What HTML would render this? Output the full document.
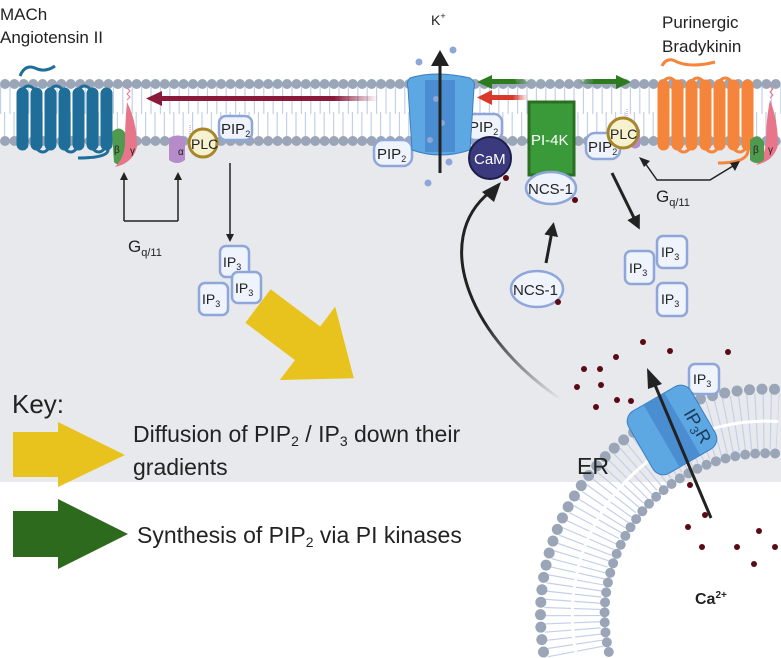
<!DOCTYPE html>
<html><head><meta charset="utf-8"><style>
html,body{margin:0;padding:0;background:#fff;width:781px;height:658px;overflow:hidden}
svg{display:block}
text{font-family:"Liberation Sans",sans-serif;fill:#222}
</style></head><body>
<svg width="781" height="658" viewBox="0 0 781 658" xmlns="http://www.w3.org/2000/svg">
<defs>
<linearGradient id="fadeR" x1="0" x2="1" y1="0" y2="0"><stop offset="0" stop-color="#8b1a3a"/><stop offset="0.8" stop-color="#8b1a3a"/><stop offset="1" stop-color="#8b1a3a" stop-opacity="0"/></linearGradient>
<linearGradient id="fadeRed" x1="0" x2="1"><stop offset="0" stop-color="#d9382a"/><stop offset="0.6" stop-color="#d9382a"/><stop offset="1" stop-color="#d9382a" stop-opacity="0"/></linearGradient>
<linearGradient id="fadeGL" x1="0" x2="1"><stop offset="0" stop-color="#2e7a1e"/><stop offset="0.6" stop-color="#2e7a1e"/><stop offset="1" stop-color="#2e7a1e" stop-opacity="0"/></linearGradient>
<linearGradient id="fadeGR" x1="1" x2="0"><stop offset="0" stop-color="#2e7a1e"/><stop offset="0.6" stop-color="#2e7a1e"/><stop offset="1" stop-color="#2e7a1e" stop-opacity="0"/></linearGradient>
<linearGradient id="curveG" gradientUnits="userSpaceOnUse" x1="560" y1="400" x2="470" y2="250"><stop offset="0" stop-color="#222" stop-opacity="0"/><stop offset="0.6" stop-color="#222"/></linearGradient>
<marker id="ah" markerWidth="8" markerHeight="8" refX="6" refY="4" orient="auto" markerUnits="userSpaceOnUse"><path d="M0,0 L8,4 L0,8 z" fill="#222"/></marker>
<marker id="ahb" markerWidth="14" markerHeight="14" refX="10" refY="7" orient="auto" markerUnits="userSpaceOnUse"><path d="M0,0 L14,7 L0,14 z" fill="#222"/></marker>
</defs>

<rect x="0" y="141" width="781" height="341" fill="#e8e9ed"/>

<line x1="0" y1="100" x2="781" y2="100" stroke="#c3d0ea" stroke-width="28" stroke-dasharray="1.2 8.2"/>
<line x1="4" y1="126" x2="777" y2="126" stroke="#c3d0ea" stroke-width="28" stroke-dasharray="1.2 8.2"/>
<line x1="5" y1="84" x2="776" y2="84" stroke="#9aa6b8" stroke-width="10" stroke-linecap="round" stroke-dasharray="0 9.4"/>
<line x1="5" y1="141" x2="776" y2="141" stroke="#9aa6b8" stroke-width="10" stroke-linecap="round" stroke-dasharray="0 9.4"/>

<path d="M575.8,652 A194,194 0 0 1 778,421.5" fill="none" stroke="#c3d0ea" stroke-width="56" stroke-dasharray="1.2 6"/>
<path d="M575.8,652 A194,194 0 0 1 778,421.5" fill="none" stroke="#fff" stroke-width="3"/>
<path d="M543.5,652 A226,226 0 0 1 776,389.3" fill="none" stroke="#9aa6b8" stroke-width="11" stroke-linecap="round" stroke-dasharray="0 12.5"/>
<path d="M608.8,652 A162,162 0 0 1 776,453.5" fill="none" stroke="#9aa6b8" stroke-width="10" stroke-linecap="round" stroke-dasharray="0 10"/>

<text x="0" y="20" font-size="17">MACh</text>
<text x="0" y="43" font-size="17">Angiotensin II</text>
<text x="431" y="25" font-size="14">K<tspan font-size="9" dy="-6">+</tspan></text>
<text x="662" y="28" font-size="17">Purinergic</text>
<text x="662" y="52" font-size="17">Bradykinin</text>

<g fill="#1f6e9a" stroke="#1f6e9a">
<path d="M20,76 q5,-12 15,-8 q10,5 20,-2" fill="none" stroke-width="3"/>
<rect x="17" y="88" width="11" height="62" rx="5.5"/><rect x="31" y="88" width="11" height="62" rx="5.5"/>
<rect x="45" y="88" width="11" height="62" rx="5.5"/><rect x="59" y="88" width="11" height="62" rx="5.5"/>
<rect x="73" y="88" width="11" height="62" rx="5.5"/><rect x="87" y="88" width="11" height="62" rx="5.5"/>
<rect x="101" y="88" width="11" height="62" rx="5.5"/>
<path d="M22,90 q6,-8 13,0 M50,90 q6,-8 13,0 M78,90 q6,-8 13,0 M36,148 q7,8 13,0 M64,148 q7,8 13,0 M92,148 q7,8 13,0 M108,150 q0,8 -30,8" fill="none" stroke-width="3"/>
</g>
<rect x="158" y="96" width="220" height="5" fill="url(#fadeR)"/>
<path d="M146,98.5 L162,91 L162,106 z" fill="#8b1a3a"/>
<path d="M112,132 q8,-8 14,2 l0,28 q-6,6 -12,0 z" fill="#4f9a4f"/>
<text x="114" y="153" font-size="10" fill="#eee">β</text>
<path d="M127,102 q10,20 10,45 q-4,16 -22,20 q10,-10 10,-25 q0,-20 2,-40z" fill="#e8768a"/>
<text x="130" y="154" font-size="10">γ</text>
<path d="M127,100 l3,-3 l-3,-3 l3,-3 l-3,-3" stroke="#e8768a" fill="none"/>
<path d="M169,138 q10,-5 16,0 l0,22 q-8,6 -16,0z" fill="#b58bc9"/>
<text x="178" y="155" font-size="10">α</text>
<path d="M190,134 l0,-10" stroke="#b58bc9" stroke-dasharray="1 1"/>
<circle cx="203" cy="143" r="14" fill="#f6f1cf" stroke="#a8862a" stroke-width="3"/>
<text x="191" y="149" font-size="14">PLC</text>
<g fill="#eef3fc" stroke="#8fa6d8" stroke-width="2.5">
<rect x="219" y="116" width="33" height="24" rx="7"/>
<rect x="374" y="140" width="38" height="26" rx="9"/>
<rect x="467" y="114" width="35" height="26" rx="8"/>
<rect x="586" y="133" width="34" height="26" rx="9"/>
</g>
<text x="221" y="134" font-size="15">PIP<tspan font-size="9" dy="3">2</tspan></text>
<text x="377" y="159" font-size="15">PIP<tspan font-size="9" dy="3">2</tspan></text>
<text x="469" y="132" font-size="15">PIP<tspan font-size="9" dy="3">2</tspan></text>
<text x="588" y="152" font-size="15">PIP<tspan font-size="9" dy="3">2</tspan></text>

<path d="M124,221 L124,178 M178,221 L178,178 M124,221 L178,221" stroke="#222" stroke-width="1.5" fill="none"/>
<path d="M120,180 L124,172 L128,180z M174,180 L178,172 L182,180z" fill="#222"/>
<text x="128" y="252" font-size="17">G<tspan font-size="11" dy="4">q/11</tspan></text>
<line x1="230" y1="163" x2="230" y2="240" stroke="#222" stroke-width="1.5" marker-end="url(#ah)"/>
<g fill="#eef3fc" stroke="#8fa6d8" stroke-width="2.5">
<rect x="220" y="246" width="29" height="31" rx="6"/>
<rect x="232" y="272" width="29" height="31" rx="6"/>
<rect x="199" y="283" width="29" height="32" rx="6"/>
</g>
<text x="223" y="267" font-size="14">IP<tspan font-size="9" dy="3">3</tspan></text>
<text x="235" y="293" font-size="14">IP<tspan font-size="9" dy="3">3</tspan></text>
<text x="202" y="304" font-size="14">IP<tspan font-size="9" dy="3">3</tspan></text>

<g transform="translate(258,306) rotate(37)">
<path d="M0,-21 L62,-21 L62,-46 L120,0 L62,46 L62,21 L0,21z" fill="#e8c31e"/>
</g>

<path d="M410,78 q25,-8 60,0 q6,4 4,10 l-4,62 q-30,10 -58,0 l-4,-62 q-2,-6 2,-10z" fill="#5da7e3" stroke="#3b7fc2" stroke-width="1"/>
<rect x="425" y="80" width="30" height="72" fill="#4a8ed1"/>
<g fill="#8fa6d8">
<circle cx="419" cy="62" r="3.5"/><circle cx="453" cy="50" r="3.5"/><circle cx="436" cy="99" r="3"/><circle cx="442" cy="123" r="3"/><circle cx="430" cy="140" r="3"/><circle cx="449" cy="162" r="3.5"/><circle cx="428" cy="183" r="3.5"/>
</g>
<line x1="440" y1="173" x2="440" y2="60" stroke="#222" stroke-width="3"/>
<path d="M431,66 L440,50 L449,66z" fill="#222"/>

<rect x="490" y="79" width="40" height="5" fill="url(#fadeGL)"/>
<path d="M477,82 L492,75 L492,89z" fill="#2e7a1e"/>
<rect x="578" y="79" width="40" height="5" fill="url(#fadeGR)"/>
<path d="M631,82 L616,75 L616,89z" fill="#2e7a1e"/>
<rect x="490" y="95" width="38" height="5" fill="url(#fadeRed)"/>
<path d="M477,97.5 L492,90 L492,105z" fill="#d9382a"/>

<rect x="529" y="102" width="45" height="73" fill="#3a9a3a" stroke="#2a6e20" stroke-width="3"/>
<text x="531" y="145" font-size="15" style="fill:#fff">PI-4K</text>
<circle cx="490" cy="158" r="21" fill="#3c3a7e" stroke="#1e1d4a" stroke-width="2"/>
<text x="474" y="164" font-size="15" style="fill:#fff">CaM</text>
<circle cx="506" cy="178" r="3" fill="#5a0a14"/>
<ellipse cx="551" cy="188" rx="25" ry="16" fill="#eef3fc" stroke="#8fa6d8" stroke-width="2.5"/>
<text x="528" y="194" font-size="15">NCS-1</text>
<circle cx="575" cy="200" r="3" fill="#5a0a14"/>
<ellipse cx="537" cy="289" rx="26" ry="18" fill="#eef3fc" stroke="#8fa6d8" stroke-width="2.5"/>
<text x="513" y="295" font-size="15">NCS-1</text>
<circle cx="558" cy="302" r="3" fill="#5a0a14"/>
<line x1="546" y1="263" x2="553" y2="226" stroke="#222" stroke-width="3" marker-end="url(#ahb)"/>

<path d="M627,118 l0,-10" stroke="#b58bc9" stroke-dasharray="1 1"/>
<path d="M630,128 q6,-3 10,2 l0,16 q-5,5 -10,0z" fill="#b58bc9"/>
<circle cx="623" cy="133" r="15" fill="#f6f1cf" stroke="#a8862a" stroke-width="3"/>
<text x="610" y="139" font-size="14">PLC</text>

<g fill="#f5853a" stroke="#f5853a">
<path d="M662,66 q5,-10 15,-4 q15,6 38,0" fill="none" stroke-width="3"/>
<rect x="658" y="80" width="11" height="70" rx="5.5"/><rect x="672" y="80" width="11" height="70" rx="5.5"/>
<rect x="686" y="80" width="11" height="70" rx="5.5"/><rect x="700" y="80" width="11" height="70" rx="5.5"/>
<rect x="714" y="80" width="11" height="70" rx="5.5"/><rect x="728" y="80" width="11" height="70" rx="5.5"/>
<rect x="742" y="80" width="11" height="70" rx="5.5"/>
<path d="M663,82 q6,-8 13,0 M691,82 q6,-8 13,0 M719,82 q6,-8 13,0 M677,148 q7,8 13,0 M705,148 q7,8 13,0 M733,148 q7,8 13,0 M748,150 q0,13 -30,13" fill="none" stroke-width="3"/>
</g>
<path d="M770,100 q8,20 8,45 q-4,16 -22,20 q10,-10 10,-25 q0,-20 4,-40z" fill="#e8768a"/>
<path d="M750,140 q8,-8 14,2 l0,18 q-8,6 -14,0z" fill="#4f9a4f"/>
<text x="753" y="153" font-size="10" fill="#eee">β</text>
<text x="768" y="153" font-size="10">γ</text>
<path d="M770,98 l3,-3 l-3,-3 l3,-3 l-3,-3" stroke="#e8768a" fill="none"/>
<path d="M645,163 L657,180 L710,180 L733,166" stroke="#222" stroke-width="1.5" fill="none"/>
<path d="M639,157 L650,161 L644,167z M740,161 L735,171 L730,163z" fill="#222"/>
<text x="656" y="202" font-size="17">G<tspan font-size="11" dy="4">q/11</tspan></text>
<line x1="612" y1="173" x2="638" y2="226" stroke="#222" stroke-width="3" marker-end="url(#ahb)"/>
<g fill="#eef3fc" stroke="#8fa6d8" stroke-width="2.5">
<rect x="657" y="236" width="30" height="32" rx="6"/>
<rect x="625" y="251" width="29" height="33" rx="6"/>
<rect x="657" y="283" width="30" height="33" rx="6"/>
<rect x="689" y="364" width="30" height="30" rx="6"/>
</g>
<text x="661" y="257" font-size="14">IP<tspan font-size="9" dy="3">3</tspan></text>
<text x="629" y="273" font-size="14">IP<tspan font-size="9" dy="3">3</tspan></text>
<text x="661" y="304" font-size="14">IP<tspan font-size="9" dy="3">3</tspan></text>
<text x="693" y="384" font-size="14">IP<tspan font-size="9" dy="3">3</tspan></text>

<path d="M565,402 C470,340 430,240 490,192" fill="none" stroke="url(#curveG)" stroke-width="3"/>
<path d="M482,192 L501,182 L494,202z" fill="#222"/>

<g transform="translate(672,430) rotate(-30)">
<rect x="-36" y="-36" width="72" height="72" rx="12" fill="#5da7e3" stroke="#3b7fc2"/>
<rect x="-12" y="-36" width="24" height="72" fill="#4a8ed1"/>
<text x="-9" y="-18" font-size="18" transform="rotate(90)" style="fill:#1a3a5a">IP<tspan font-size="12" dy="3">3</tspan><tspan dy="-3">R</tspan></text>
</g>
<line x1="711" y1="518" x2="655" y2="385" stroke="#222" stroke-width="3"/>
<path d="M647,368 L662,384 L648,389z" fill="#222"/>

<g fill="#5a0a14">
<circle cx="670" cy="351" r="3"/><circle cx="584" cy="369" r="3"/><circle cx="600" cy="369" r="3"/><circle cx="601" cy="385" r="3"/><circle cx="617" cy="400" r="3"/><circle cx="596" cy="407" r="3"/><circle cx="616" cy="357" r="3"/><circle cx="631" cy="401" r="3"/><circle cx="577" cy="387" r="3"/><circle cx="643" cy="342" r="3"/>
<circle cx="728" cy="352" r="3"/>
<circle cx="690" cy="485" r="3"/><circle cx="705" cy="515" r="3"/><circle cx="688" cy="527" r="3"/><circle cx="702" cy="547" r="3"/><circle cx="737" cy="547" r="3"/><circle cx="759" cy="531" r="3"/><circle cx="754" cy="564" r="3"/><circle cx="775" cy="547" r="3"/>
</g>
<text x="577" y="474" font-size="23">ER</text>
<text x="695" y="604" font-size="16" font-weight="bold">Ca<tspan font-size="10" dy="-6">2+</tspan></text>

<text x="12" y="413" font-size="26">Key:</text>
<path d="M13,432 L58,432 L58,422 L125,455 L58,487 L58,477 L13,477z" fill="#e8c31e"/>
<text x="133" y="442" font-size="23">Diffusion of PIP<tspan font-size="14" dy="4">2</tspan><tspan dy="-4"> / IP</tspan><tspan font-size="14" dy="4">3</tspan><tspan dy="-4"> down their</tspan></text>
<text x="133" y="475" font-size="23">gradients</text>
<path d="M13,511 L58,511 L58,499 L128,534 L58,569 L58,557 L13,557z" fill="#2e6a1e"/>
<text x="137" y="543" font-size="23">Synthesis of PIP<tspan font-size="14" dy="4">2</tspan><tspan dy="-4"> via PI kinases</tspan></text>
</svg>
</body></html>
